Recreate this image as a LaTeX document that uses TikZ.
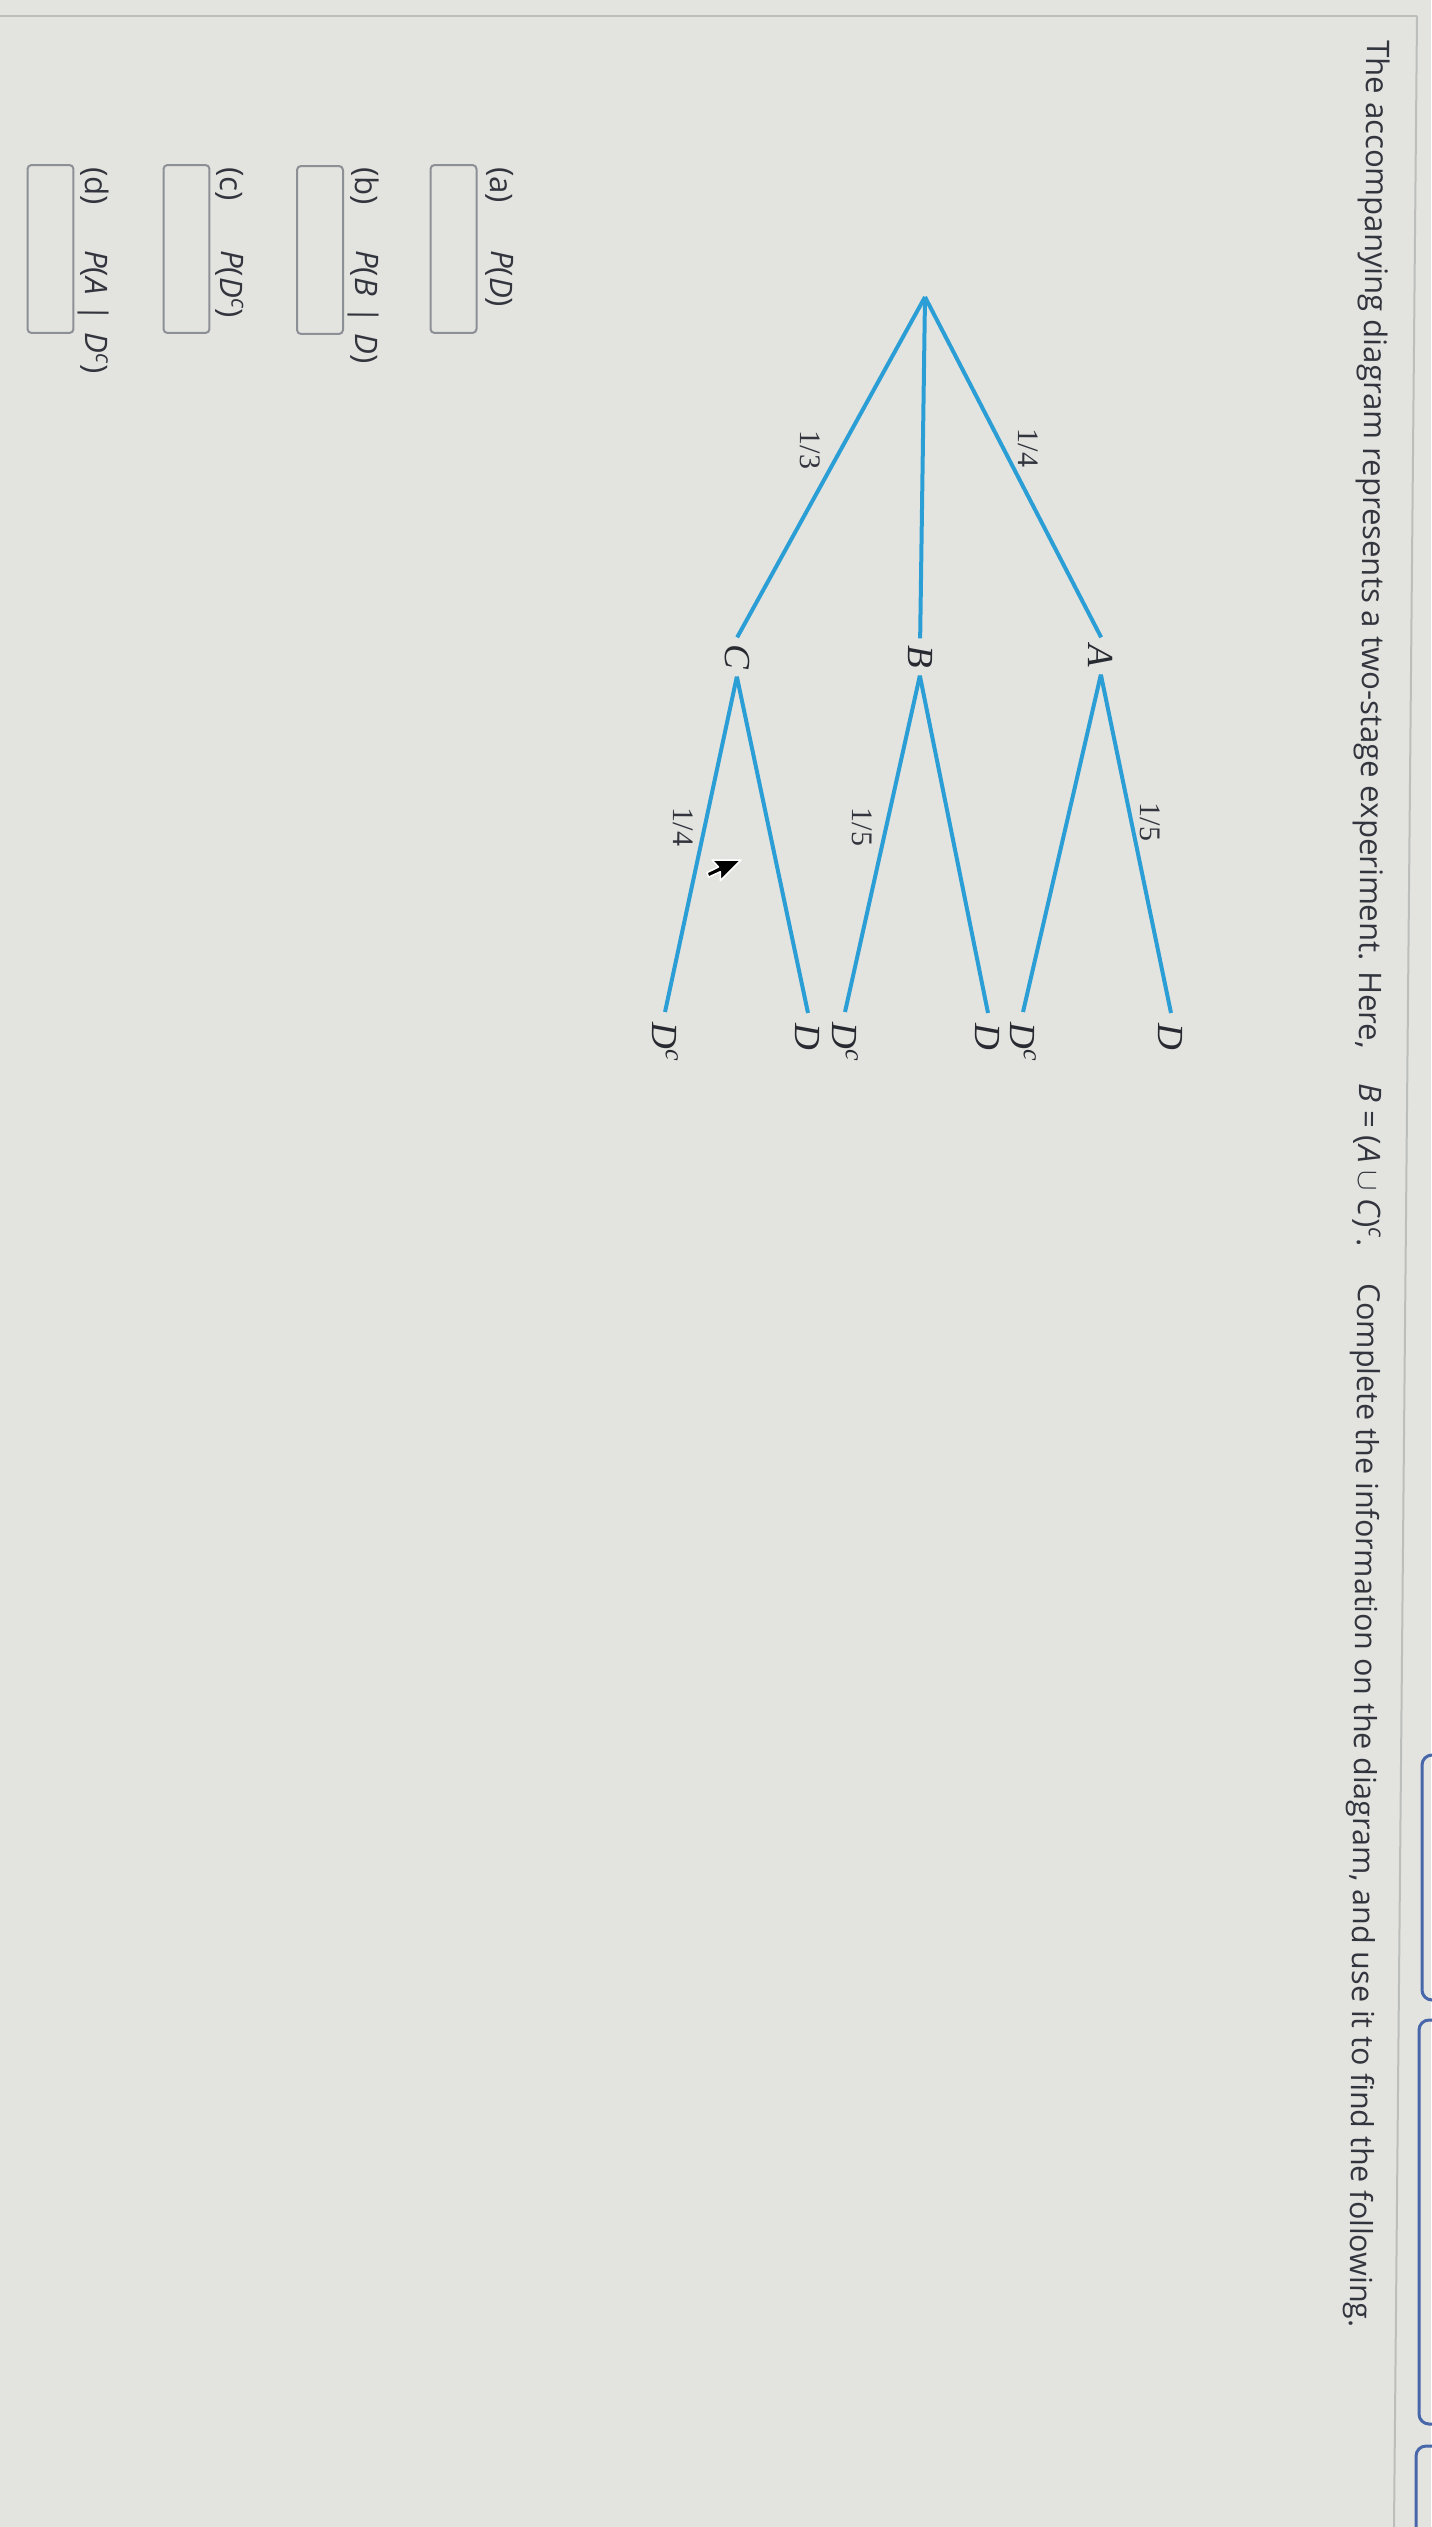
\documentclass[tikz,border=0pt]{standalone}
\usepackage{fontspec}
\setmainfont{Liberation Serif}
\newfontfamily\osans{Open Sans}
\definecolor{bg}{RGB}{227,228,223}
\definecolor{treeblue}{RGB}{44,158,214}
\definecolor{ink}{RGB}{50,53,62}
\definecolor{boxgrey}{RGB}{140,143,150}
\definecolor{btnblue}{RGB}{72,102,170}
\definecolor{rulegrey}{RGB}{188,190,188}
\begin{document}
\begin{tikzpicture}[x=0.02cm, y=-0.02cm,
  branch/.style={draw=treeblue, line width=0.08cm},
  evt/.style={rotate=-90.45, inner xsep=0.14cm, inner ysep=0pt, text=ink!80!black,
    font=\fontsize{21}{24}\selectfont\itshape},
  leaf/.style={evt, anchor=west, inner xsep=0.2cm},
  prob/.style={rotate=-90.45, inner sep=0pt, text=ink, font=\fontsize{17}{20}\selectfont},
  maintext/.style={rotate=-90.45, anchor=base west, inner sep=0pt, text=ink,
    font=\osans\fontsize{17.7}{21}\selectfont},
  itemlbl/.style={rotate=-90.45, anchor=base west, inner sep=0pt, text=ink,
    font=\osans\fontsize{17.7}{21}\selectfont},
  ansbox/.style={draw=boxgrey, line width=0.04cm, rounded corners=0.08cm,
    minimum width=0.92cm, minimum height=3.36cm, inner sep=0pt},
  btn/.style={draw=btnblue, line width=0.06cm, rounded corners=0.2cm}
]
\useasboundingbox (0,0) rectangle (1431,2527);
\fill[bg] (0,0) rectangle (1431,2527);

% page frame lines
\draw[rulegrey, line width=0.04cm] (0,16) -- (1417,16);
\draw[rulegrey, line width=0.04cm] (1417,16) -- (1394,2527);

% buttons at the right edge (cut off)
\draw[btn] (1422,1755) rectangle (1470,2000);
\draw[btn] (1419,2020) rectangle (1470,2424);
\draw[btn] (1416,2446) rectangle (1470,2600);

% question text
\node[maintext] (q1) at (1367,40) {The accompanying diagram represents a two-stage experiment.  Here,};
\node[maintext] (q2) at (1359,1083) {\textit{B} = (\textit{A} $\cup$ \textit{C})\textsuperscript{\textit{c}}.};
\node[maintext, font=\osans\fontsize{17.3}{21}\selectfont] (q3) at (1358,1283) {Complete the information on the diagram, and use it to find the following.};

% tree
\coordinate (R) at (925,297);
\node[evt] (A) at (1101,656) {A};
\node[evt] (B) at (920,657) {B};
\node[evt] (C) at (737,657) {C};

\node[leaf] (AD)  at (1171,1013) {D};
\node[leaf] (ADc) at (1023,1012) {D\textsuperscript{\smash{c}}};
\node[leaf] (BD)  at (988,1013) {D};
\node[leaf] (BDc) at (845,1012) {D\textsuperscript{\smash{c}}};
\node[leaf] (CD)  at (808,1013) {D};
\node[leaf] (CDc) at (665,1012) {D\textsuperscript{\smash{c}}};

\draw[branch] (R) -- (A.west);
\draw[branch] (R) -- (B.west);
\draw[branch] (R) -- (C.west);
\draw[branch] (A.east) -- (AD.west);
\draw[branch] (A.east) -- (ADc.west);
\draw[branch] (B.east) -- (BD.west);
\draw[branch] (B.east) -- (BDc.west);
\draw[branch] (C.east) -- (CD.west);
\draw[branch] (C.east) -- (CDc.west);

\node[prob] (pA) at (1028,448) {1/4};
\node[prob] (pC) at (810,450) {1/3};
\node[prob] (pAD) at (1150,822) {1/5};
\node[prob] (pBDc) at (862,827) {1/5};
\node[prob] (pCDc) at (683,827) {1/4};

% mouse cursor
\filldraw[fill=black, draw=white, line width=0.03cm, line join=round]
  (741,860) -- (712,860) -- (718.5,867) -- (707,872.6) -- (708.6,877.1)
  -- (720.3,871.7) -- (720.3,880.7) -- cycle;

% answer items
\node[itemlbl] (la) at (491,167) {(a)};
\node[itemlbl] (ta) at (491,250) {\textit{P}(\textit{D})};
\node[ansbox] (ba) at (453.5,249) {};
\node[itemlbl] (lb) at (356,167) {(b)};
\node[itemlbl] (tb) at (356,250) {\textit{P}(\textit{B}\,\,|\,\,\textit{D})};
\node[ansbox] (bb) at (320,250) {};
\node[itemlbl] (lc) at (221,167) {(c)};
\node[itemlbl] (tc) at (221,250) {\textit{P}(\textit{D}\textsuperscript{\textit{c}})};
\node[ansbox] (bc) at (186.5,249) {};
\node[itemlbl] (ld) at (86,167) {(d)};
\node[itemlbl] (td) at (86,250) {\textit{P}(\textit{A}\,\,|\,\,\textit{D}\textsuperscript{\textit{c}})};
\node[ansbox] (bd) at (50.5,249) {};
\end{tikzpicture}
\end{document}
